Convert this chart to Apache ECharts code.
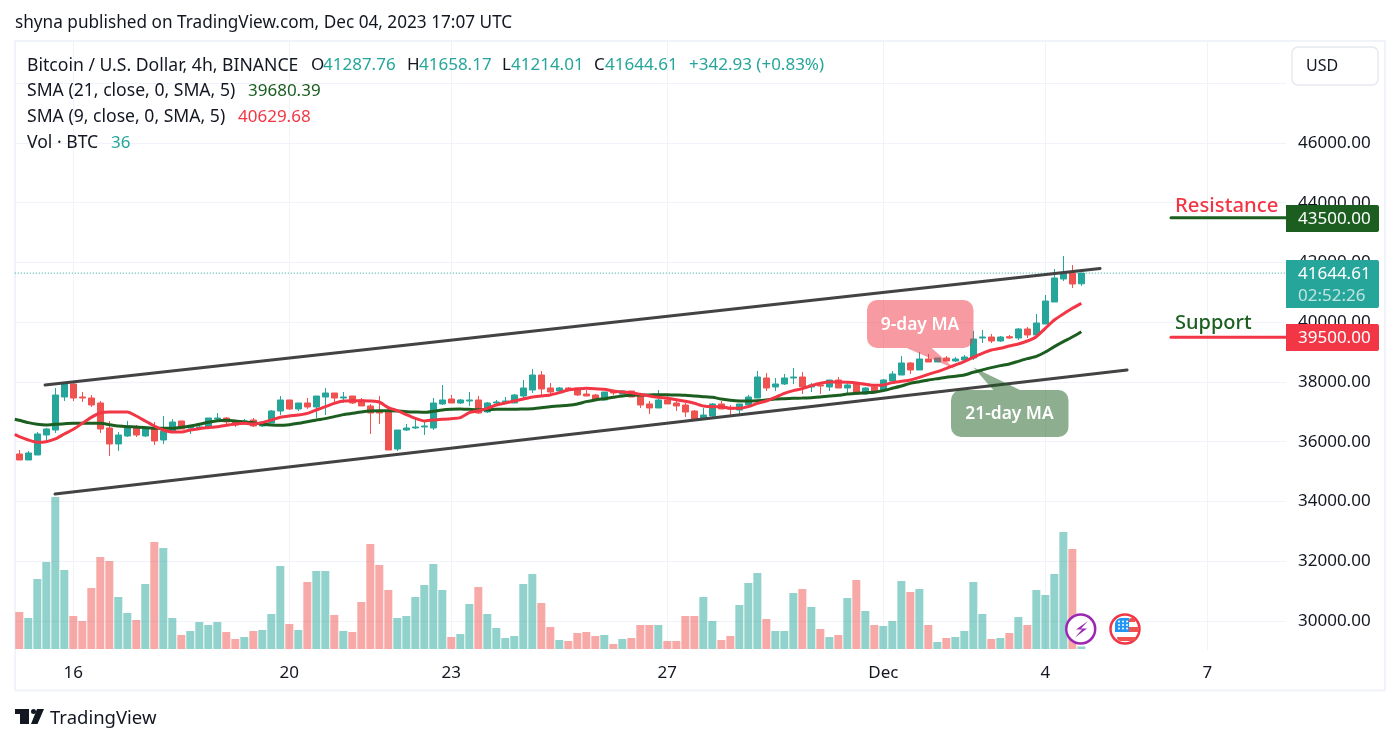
<!DOCTYPE html>
<html><head><meta charset="utf-8">
<style>html,body{margin:0;padding:0;background:#fff}#c{width:1400px;height:744px}</style>
<script src="https://cdn.jsdelivr.net/npm/echarts@6/dist/echarts.min.js"></script>
</head><body><div id="c"></div>
<script>
// open, close, low, high
const ohlc = [
[35590,35389,35389,35724],[35389,35624,35389,35691],[35557,36260,35557,36327],[36226,36427,36025,36460],
[36393,37565,36293,37799],[37498,37933,37364,38000],[37933,37464,37364,38000],[37498,37464,37331,37665],
[37464,37230,37163,37565],[37297,36427,36293,37364],[36460,35925,35523,36695],[35925,36226,35691,36327],
[36193,36527,36159,36695],[36494,36226,36159,36561],[36193,36427,36159,36527],[36427,36025,35891,36661],
[36059,36360,35925,36862],[36327,36661,36327,36762],[36695,36427,36427,36695],[36460,36494,36260,36561],
[36460,36494,36460,36594],[36460,36795,36460,36795],[36762,36795,36728,36962],[36795,36661,36594,36829],
[36695,36561,36494,36695],[36594,36695,36594,36762],[36728,36527,36494,36795],[36527,36661,36494,36695],
[36628,37029,36628,37063],[37029,37398,36895,37531],[37398,37096,37063,37398],[37096,37297,37029,37297],
[37297,37163,37096,37464],[37163,37531,36795,37531],[37498,37632,36895,37799],[37632,37464,37297,37632],
[37464,37498,37297,37665],[37531,37297,37264,37531],[37398,37197,37197,37464],[37197,36962,36260,37264],
[36996,36962,36594,37531],[36996,35724,35724,37096],[35757,36393,35691,36393],[36393,36460,36360,36594],
[36460,36494,36427,36762],[36494,36527,36226,36661],[36460,37297,36393,37464],[37264,37398,37230,37900],
[37431,37297,37297,37565],[37297,37398,37264,37431],[37364,37398,37197,37665],[37398,36962,36929,37531],
[36996,37297,36962,37331],[37297,37331,37197,37398],[37331,37364,37264,37498],[37297,37565,37297,37598],
[37531,37799,37464,38067],[37732,38234,37632,38435],[38234,37766,37565,38368],[37799,37665,37565,37967],
[37699,37799,37699,37833],[37799,37766,37732,37833],[37799,37565,37531,37799],[37598,37531,37531,37732],
[37565,37398,37398,37598],[37398,37665,37398,37665],[37665,37632,37565,37732],[37598,37699,37598,37732],
[37699,37498,37498,37699],[37531,37230,37130,37531],[37264,37130,36929,37364],[37130,37398,37130,37732],
[37398,37264,37264,37531],[37297,37197,37029,37398],[37230,36996,36829,37297],[37029,36728,36728,37063],
[36762,36895,36762,37130],[36862,37264,36829,37297],[37264,37096,37096,37364],[37130,37096,36895,37230],
[37063,37264,36929,37264],[37230,37498,37130,37565],[37464,38167,37464,38368],[38134,37799,37699,38301],
[37833,37933,37699,38134],[37933,38134,37900,38268],[38134,38167,37933,38469],[38167,37833,37598,38335],
[37833,37900,37665,37967],[37900,37866,37598,37900],[37833,38067,37699,38067],[38067,37799,37799,38167],
[37799,37900,37632,37967],[37967,37598,37565,38000],[37598,37799,37565,37833],[37833,37699,37632,37900],
[37732,38067,37699,38100],[38033,38268,38033,38368],[38234,38636,38234,38870],[38636,38402,38268,38669],
[38402,38770,38402,39004],[38770,38669,38669,38937],[38669,38803,38669,38803],[38803,38703,38703,38870],
[38703,38770,38669,38837],[38736,38837,38703,38904],[38803,39439,38736,39707],[39473,39506,39305,39740],
[39506,39372,39305,39607],[39372,39506,39339,39540],[39517,39473,39439,39573],[39473,39774,39406,39807],
[39774,39573,39473,39841],[39573,39975,39573,40276],[39941,40711,39941,40912],[40678,41481,40678,41782],
[41448,41648,41381,42217],[41648,41280,41146,41916],[41287.76,41644.61,41214.01,41658.17]
];
// volume, BTC (estimated)
const volumes = [37,31,70,87,152,79,33,28,61,92,88,52,36,29,65,107,101,31,14,18,27,24,27,17,10,12,18,19,35,83,25,19,67,78,78,34,18,17,47,105,84,59,31,33,52,64,85,59,12,15,45,62,35,21,11,13,65,75,46,22,9,8,16,17,13,14,5,10,11,24,24,24,8,8,33,33,52,28,9,13,44,66,76,30,18,18,56,60,42,20,12,14,51,69,38,24,23,28,68,57,60,24,7,11,12,18,67,35,10,11,16,32,24,59,54,75,117,100,2.5].map(v => v * 14);
const sma9 = [36170,36059,35981,36003,36092,36260,36416,36617,36817,36962,36996,36996,36996,36862,36695,36527,36393,36326,36326,36393,36438,36472,36505,36550,36594,36617,36594,36639,36728,36817,36862,36895,36951,37063,37174,37286,37364,37375,37375,37364,37331,37141,37040,36907,36784,36695,36728,36750,36773,36806,36974,37040,37119,37230,37297,37364,37431,37498,37531,37565,37643,37732,37766,37788,37777,37755,37699,37665,37643,37587,37531,37487,37453,37409,37353,37286,37197,37174,37174,37119,37119,37174,37286,37364,37487,37621,37710,37777,37877,37955,38000,38000,37989,37967,37922,37888,37900,37978,38022,38067,38156,38257,38346,38457,38569,38681,38826,38960,39071,39127,39205,39272,39372,39517,39796,40075,40276,40466,40629.68];
const sma21 = [36717,36639,36583,36561,36583,36605,36617,36617,36617,36617,36572,36527,36505,36494,36472,36449,36449,36449,36483,36527,36583,36650,36706,36717,36695,36661,36639,36594,36561,36550,36572,36617,36672,36728,36773,36840,36907,36951,36996,37029,37040,37040,37029,37007,36996,36985,37018,37063,37085,37096,37085,37074,37074,37085,37085,37085,37096,37107,37141,37174,37197,37219,37264,37342,37398,37442,37487,37531,37554,37565,37565,37576,37576,37565,37554,37531,37509,37487,37431,37386,37364,37364,37375,37398,37431,37442,37453,37464,37476,37498,37531,37554,37598,37621,37643,37654,37710,37788,37866,37955,38011,38067,38112,38156,38190,38234,38324,38402,38480,38547,38602,38692,38781,38859,39004,39183,39350,39506,39680.39];
const sma9Lead = 36248, sma21Lead = 36750;
const channelUpper = [[2.86,37900],[120.08,41799]];
const channelLower = [[3.97,34251],[123.08,38401]];
const resistance = 43500, support = 39500, lastPrice = 41644.61;
const xTickBars = [6,30,48,72,96,114,132];
const xTickLabels = ['16','20','23','27','Dec','4','7'];
const yTicks = [30000,32000,34000,36000,38000,40000,42000,44000,46000,48000];

const TEAL='#26a69a', RED='#ef5350', GREEN='#1b5e20', PINK='#f23645', INK='#131722', GRID='#f0f3fa';
const FONT='"Noto Sans"';
const FS=17, FT=17.6;
const xMin=-0.5, xMax=140.74, levelFrom=127.96;
const chart = echarts.init(document.getElementById('c'));

const Z=50;
const txt=(text,x,y,fill,size,extra)=>({type:'text',x,y:y+1.5,z:Z+5,silent:true,style:Object.assign({text,fill,font:`${size}px ${FONT}`,textVerticalAlign:'middle',textAlign:'left'},extra||{})});
const box=(x,y,w,h,fill,r)=>({type:'rect',z:Z,silent:true,shape:{x,y,width:w,height:h,r:r},style:{fill}});
const poly=(points,fill,op)=>({type:'polygon',z:Z,silent:true,shape:{points},style:{fill,opacity:op==null?1:op}});
const dots=[];
[1119,1123,1127].forEach(x=>[621.5,625,628.5].forEach(y=>dots.push({type:'circle',z:Z+4,silent:true,shape:{cx:x,cy:y,r:1},style:{fill:'#fff'}})));

const graphics=[
  // frame
  {type:'rect',z:1,silent:true,shape:{x:15,y:41,width:1370,height:649.5},style:{fill:'none',stroke:GRID,lineWidth:2}},
  txt('shyna published on TradingView.com, Dec 04, 2023 17:07 UTC',15,22,INK,17.2),
  txt('Bitcoin / U.S. Dollar, 4h, BINANCE',27,64,INK,FT),
  txt('O',311,64,INK,FS),txt('41287.76',323,64,TEAL,FS),
  txt('H',407,64,INK,FS),txt('41658.17',419,64,TEAL,FS),
  txt('L',502,64,INK,FS),txt('41214.01',511,64,TEAL,FS),
  txt('C',594,64,INK,FS),txt('41644.61',605,64,TEAL,FS),
  txt('+342.93 (+0.83%)',689,64,TEAL,FS),
  txt('SMA (21, close, 0, SMA, 5)',27,89.5,INK,FT),txt('39680.39',248,89.5,GREEN,FS),
  txt('SMA (9, close, 0, SMA, 5)',27,115.5,INK,FT),txt('40629.68',238,115.5,PINK,FS),
  txt('Vol · BTC',27,141.5,INK,FT),txt('36',111,141.5,TEAL,FS),
  // USD button
  {type:'rect',z:Z,silent:true,shape:{x:1292,y:47,width:86,height:38,r:6},style:{fill:'#fff',stroke:'#e8e9f0',lineWidth:1.5}},
  txt('USD',1306,64.5,INK,16),
  // annotations
  poly([[906.7,348],[931.7,348],[955,369]],PINK,0.5),
  box(867,300,106.5,48,'rgba(242,54,69,0.5)',10),
  txt('9-day MA',920,323.5,'#fff',17.4,{textAlign:'center',font:`600 17.4px ${FONT}`}),
  poly([[993.3,390],[1020,390],[973.3,367.3]],GREEN,0.5),
  box(951,390,117.5,47,'rgba(27,94,32,0.5)',10),
  txt('21-day MA',1009.5,412.5,'#fff',17.4,{textAlign:'center',font:`600 17.4px ${FONT}`}),
  // level words
  txt('Resistance',1175,204.5,PINK,20.3,{font:`500 20.3px ${FONT}`}),
  txt('Support',1175,321.5,GREEN,20,{font:`500 20px ${FONT}`}),
  // price tags
  box(1286,205,93,27,GREEN,[0,2,2,0]),
  txt('43500.00',1298,218,'#fff',FS),
  box(1286,260,93,48,TEAL,[0,2,2,0]),
  txt('41644.61',1298,272.5,'#fff',FS),
  txt('02:52:26',1298,294.5,'rgba(255,255,255,0.7)',FS),
  box(1286,324,93,27,PINK,[0,2,2,0]),
  txt('39500.00',1298,337,'#fff',FS),
  // event icons
  {type:'circle',z:Z,silent:true,shape:{cx:1080.7,cy:629,r:15.5},style:{fill:'#fff'}},
  {type:'circle',z:Z+1,silent:true,shape:{cx:1080.7,cy:629,r:14.5},style:{fill:'#fff',stroke:'#9c27b0',lineWidth:2.5}},
  Object.assign(poly([[1088,621],[1076,629.5],[1082,629.5],[1075,637.5],[1087,628.5],[1081,628.5]],'#9c27b0'),{z:Z+2}),
  {type:'circle',z:Z,silent:true,shape:{cx:1125,cy:629,r:15.5},style:{fill:'#fff'}},
  {type:'circle',z:Z+1,silent:true,shape:{cx:1125,cy:629,r:14.5},style:{fill:'#fff',stroke:PINK,lineWidth:2.5}},
  Object.assign(box(1129,618,6,4,'#ef5350',[2,2,0,0]),{z:Z+2}),
  Object.assign(box(1129,627,9,5,'#ef5350',0),{z:Z+2}),
  Object.assign(box(1117,637,19,4,'#ef5350',[0,0,4,4]),{z:Z+2}),
  Object.assign(box(1115,618,14,14,'#2196f3',[6,0,0,0]),{z:Z+3}),
  ...dots,
  // logo
  poly([[15,709],[29,709],[29,724],[20,724],[20,714],[15,714]],INK),
  {type:'circle',z:Z,silent:true,shape:{cx:33.5,cy:711.5,r:2.5},style:{fill:INK}},
  poly([[37,709],[44,709],[37.5,724],[31,724]],INK),
  txt('TradingView',50,717.5,INK,18.5)
];

chart.setOption({
  animation:false,
  backgroundColor:'#fff',
  textStyle:{fontFamily:FONT},
  graphic:graphics,
  grid:{left:14.8,top:41,width:1271.2,height:609},
  xAxis:{type:'value',min:xMin,max:xMax,
    axisLine:{show:false},
    axisTick:{show:false,customValues:xTickBars},
    axisLabel:{customValues:xTickBars,margin:15,color:INK,fontSize:FS,fontFamily:FONT,
      formatter:v=>xTickLabels[xTickBars.indexOf(v)]||''},
    splitLine:{show:true,lineStyle:{color:GRID,width:1}}},
  yAxis:[
    {type:'value',position:'right',min:29029,max:49414,
      axisLine:{show:false},
      axisTick:{show:false,customValues:yTicks},
      axisLabel:{customValues:yTicks,margin:12,color:INK,fontSize:FS,fontFamily:FONT,padding:[3,0,0,0],
        formatter:v=>v===48000?'':v.toFixed(2)},
      splitLine:{show:true,lineStyle:{color:GRID,width:1}}},
    {type:'value',min:-14,max:8512,show:false,splitLine:{show:false}}
  ],
  series:[
    {type:'bar',yAxisIndex:1,z:2,barWidth:8,silent:true,
     data:volumes.map((v,i)=>({value:[i,v],itemStyle:{color:ohlc[i][1]>=ohlc[i][0]?TEAL:RED,opacity:0.5}}))},
    {type:'line',z:3,silent:true,symbol:'none',data:[[xMin,lastPrice],[xMax,lastPrice]],
     lineStyle:{color:TEAL,width:1,type:[1,2]}},
    {type:'candlestick',z:4,silent:true,barWidth:7,
     data:ohlc.map((d,i)=>[i,d[0],d[1],d[2],d[3]]),
     itemStyle:{color:TEAL,color0:RED,borderColor:TEAL,borderColor0:RED,borderWidth:1}},
    {type:'line',z:5,silent:true,symbol:'none',smooth:0.2,data:[[xMin,sma21Lead]].concat(sma21.map((v,i)=>[i,v])),lineStyle:{color:GREEN,width:3}},
    {type:'line',z:6,silent:true,symbol:'none',smooth:0.2,data:[[xMin,sma9Lead]].concat(sma9.map((v,i)=>[i,v])),lineStyle:{color:PINK,width:3}},
    {type:'line',z:7,silent:true,symbol:'none',data:channelUpper,lineStyle:{color:'#434343',width:3,cap:'round'}},
    {type:'line',z:7,silent:true,symbol:'none',data:channelLower,lineStyle:{color:'#434343',width:3,cap:'round'}},
    {type:'line',z:7,silent:true,symbol:'none',data:[[levelFrom,resistance],[xMax,resistance]],lineStyle:{color:GREEN,width:3,cap:'round'}},
    {type:'line',z:7,silent:true,symbol:'none',data:[[levelFrom,support],[xMax,support]],lineStyle:{color:PINK,width:3,cap:'round'}}
  ]
});
</script></body></html>
